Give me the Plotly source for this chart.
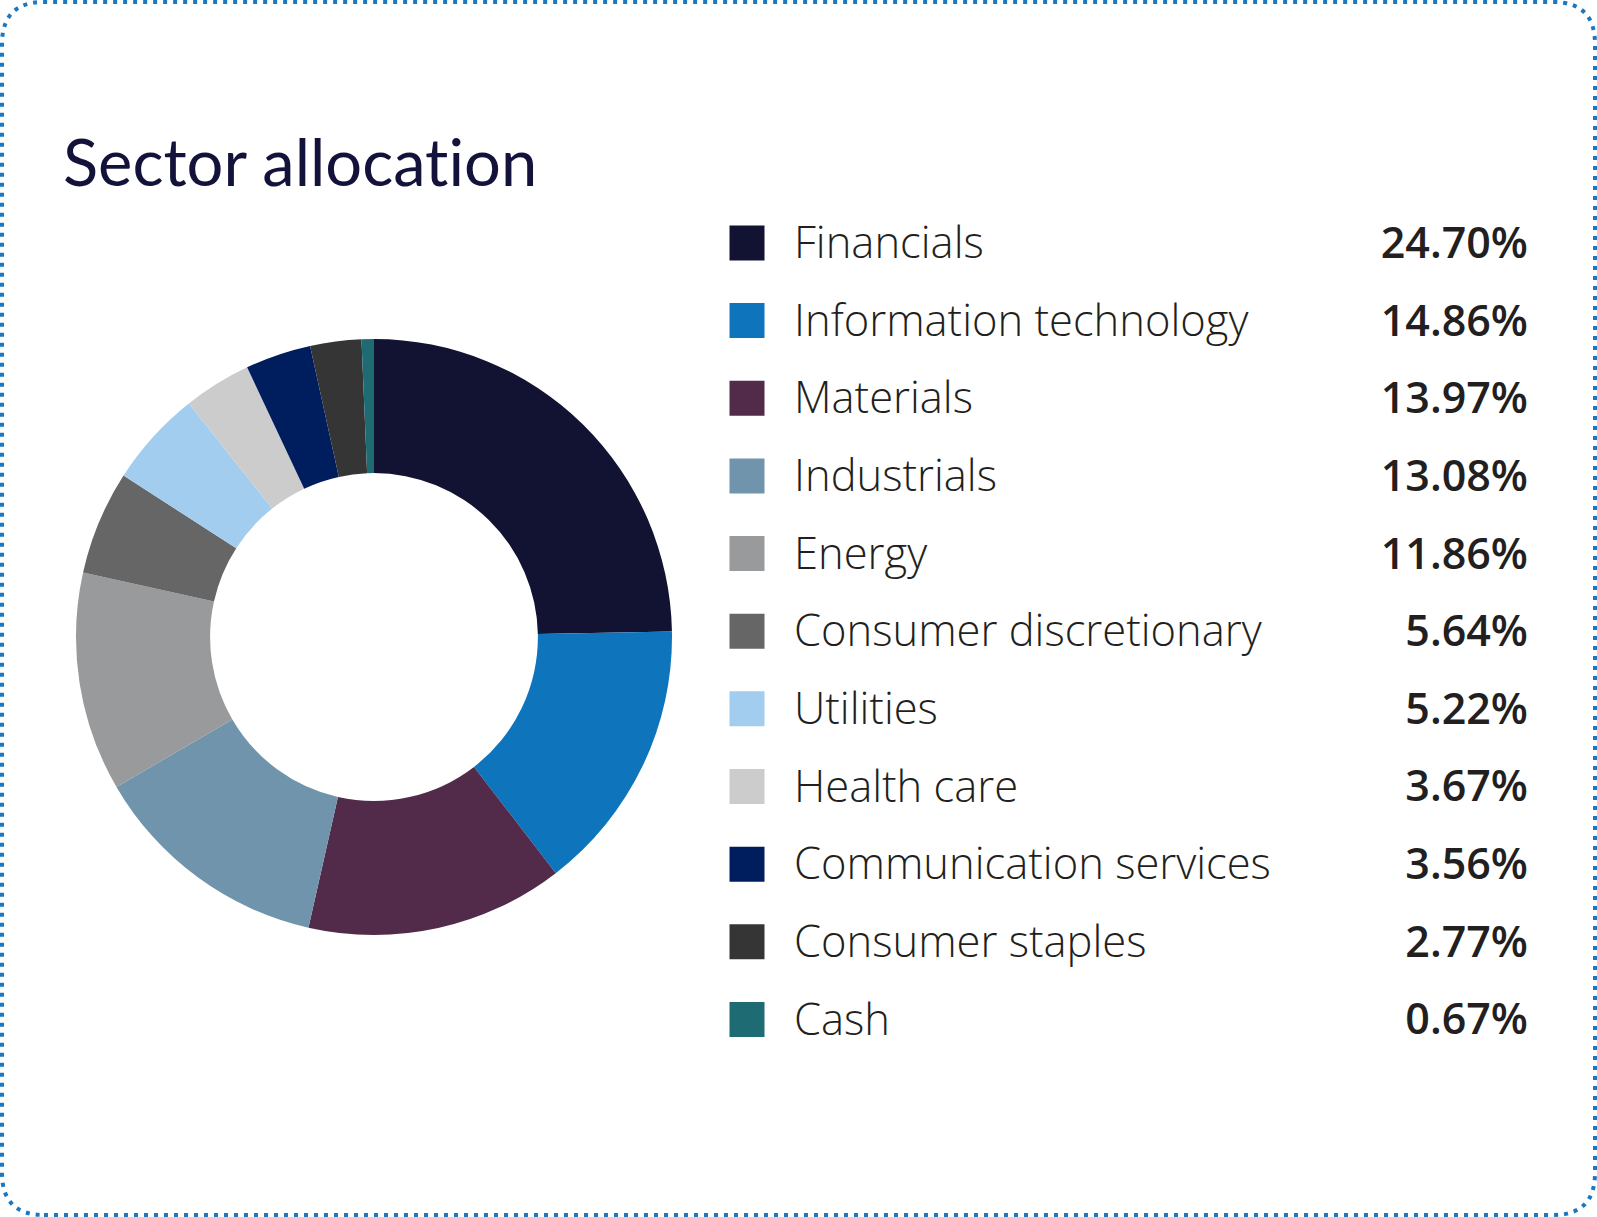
import plotly.graph_objects as go

## sector allocation donut with a hand-built legend on the right

sectors = ['Financials', 'Information technology', 'Materials', 'Industrials', 'Energy',
           'Consumer discretionary', 'Utilities', 'Health care', 'Communication services',
           'Consumer staples', 'Cash']
weights = [24.70, 14.86, 13.97, 13.08, 11.86, 5.64, 5.22, 3.67, 3.56, 2.77, 0.67]
colours = ['#121233', '#0e75bd', '#522b4a', '#7094ab', '#999a9c', '#666666',
           '#a3cdee', '#cccccc', '#001e5e', '#353535', '#1e6b73']

W, H = 1597, 1217
rows = list(range(len(sectors)))
pct_text = ['%.2f%%' % w for w in weights]

fig = go.Figure()

fig.add_trace(go.Pie(labels=sectors, values=weights, hole=0.55, sort=False, direction='clockwise',
                     marker=dict(colors=colours, line=dict(width=0)), textinfo='none',
                     hoverinfo='label+percent', showlegend=False,
                     domain=dict(x=[76 / W, 672 / W], y=[1 - 935 / H, 1 - 339 / H])))

# legend squares
fig.add_trace(go.Scatter(x=[747] * len(rows), y=rows, mode='markers', showlegend=False, hoverinfo='skip',
                         marker=dict(symbol='square', size=35, color=colours, line=dict(width=0))))
# legend labels (on y2 so the text sits a touch lower than the squares)
fig.add_trace(go.Scatter(x=[794] * len(rows), y=rows, yaxis='y2', mode='text', text=sectors,
                         textposition='middle right', showlegend=False, hoverinfo='skip',
                         textfont=dict(family='Open Sans', size=43.5, color='#231f20', weight=300)))
# percentages
fig.add_trace(go.Scatter(x=[1528] * len(rows), y=rows, yaxis='y2', mode='text', text=pct_text,
                         textposition='middle left', showlegend=False, hoverinfo='skip',
                         textfont=dict(family='Open Sans', size=43, color='#231f20', weight=600)))

fig.update_layout(xaxis=dict(range=[0, W], domain=[0, 1], visible=False, fixedrange=True),
                  yaxis=dict(range=[12.544, -3.129], domain=[0, 1], visible=False, fixedrange=True),
                  yaxis2=dict(range=[12.49, -3.183], domain=[0, 1], overlaying='y', visible=False,
                              fixedrange=True))

# dotted rounded frame, drawn in paper units
r = 42
x0, x1 = 2 / W, (W - 2) / W
y0, y1 = 2 / H, (H - 2) / H
rx, ry = r / W, r / H
frame = ('M %f,%f L %f,%f Q %f,%f %f,%f L %f,%f Q %f,%f %f,%f L %f,%f Q %f,%f %f,%f L %f,%f Q %f,%f %f,%f Z'
         % (x0 + rx, y0, x1 - rx, y0, x1, y0, x1, y0 + ry, x1, y1 - ry, x1, y1, x1 - rx, y1,
            x0 + rx, y1, x0, y1, x0, y1 - ry, x0, y0 + ry, x0, y0, x0 + rx, y0))
fig.add_shape(type='path', path=frame, xref='paper', yref='paper', layer='above',
              line=dict(color='#1a78c2', width=4, dash='4px,6px'))

# zero-width non-joiner keeps Lato from joining the "ti"
fig.update_layout(width=W, height=H, margin=dict(l=0, r=0, t=0, b=0),
                  paper_bgcolor='white', plot_bgcolor='white',
                  title=dict(text='Sector allocat\u200cion', x=63 / W, xanchor='left', y=1 - 186 / H,
                             yanchor='bottom', font=dict(family='Lato', size=65, color='#13123a')))

# page body margin would push the figure 8px off the window edge
fig.write_html("out.html", config={'displayModeBar': False},
               post_script="document.body.style.margin='0px';")
